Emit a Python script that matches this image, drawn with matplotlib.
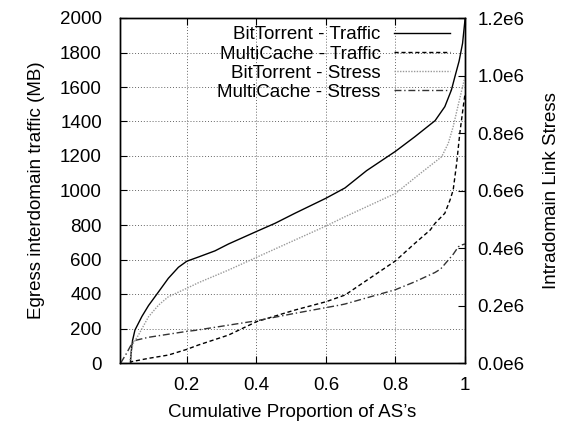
import matplotlib
matplotlib.use("Agg")
import matplotlib.pyplot as plt
from matplotlib.ticker import FuncFormatter

plt.rcParams['font.family'] = ['Liberation Sans', 'DejaVu Sans']

# ---- data ----
bt_traffic_x = [0.038, 0.040, 0.044, 0.051, 0.071, 0.090, 0.119, 0.147, 0.176, 0.200, 0.233,
                0.281, 0.320, 0.401, 0.454, 0.511, 0.600, 0.655, 0.717, 0.800, 0.856, 0.914,
                0.942, 0.961, 0.971, 0.983, 0.993, 1.000]
bt_traffic_y = [0, 60, 130, 191, 270, 333, 413, 491, 555, 590, 614,
                650, 690, 763, 810, 868, 955, 1015, 1115, 1227, 1312, 1405,
                1486, 1583, 1660, 1750, 1853, 1990]

mc_traffic_x = [0.035, 0.042, 0.090, 0.147, 0.200, 0.233, 0.320, 0.401, 0.511, 0.600, 0.641,
                0.655, 0.800, 0.856, 0.900, 0.914, 0.942, 0.957, 0.966, 0.976, 0.985, 0.995, 1.000]
mc_traffic_y = [0, 8, 27, 46, 79, 104, 162, 240, 307, 355, 384,
                394, 592, 694, 771, 810, 868, 945, 1003, 1157, 1331, 1486, 1560]

bt_stress_x = [0.035, 0.045, 0.061, 0.090, 0.119, 0.147, 0.200, 0.233, 0.320, 0.401, 0.511,
               0.600, 0.655, 0.800, 0.866, 0.933, 0.952, 0.966, 0.981, 1.000]
bt_stress_y = [0, 66000, 97200, 160800, 201600, 230400, 259800, 279000, 323400, 367800, 427800,
               476400, 508800, 589800, 654000, 717600, 764400, 822000, 900000, 996000]

mc_stress_x = [0.010, 0.025, 0.037, 0.047, 0.090, 0.200, 0.224, 0.401, 0.511, 0.600, 0.641,
               0.655, 0.800, 0.856, 0.914, 0.930, 0.952, 0.966, 0.981, 0.990, 1.000]
mc_stress_y = [0, 30000, 56400, 77400, 89400, 110000, 113400, 147000, 172800, 192600, 201600,
               205200, 255000, 282600, 315000, 327000, 358200, 378000, 404400, 410400, 414000]

labels = ["BitTorrent - Traffic", "MultiCache - Traffic",
          "BitTorrent - Stress", "MultiCache - Stress"]
x_ticks = [0.2, 0.4, 0.6, 0.8, 1.0]
x_tick_labels = ["0.2", "0.4", "0.6", "0.8", "1"]
y_ticks = list(range(0, 2001, 200))
y2_ticks = [0, 200000, 400000, 600000, 800000, 1000000, 1200000]

FS = 13.5

# ---- figure ----
fig = plt.figure(figsize=(5.79, 4.25), dpi=100)
ax = fig.add_axes([120/579, 1-363/425, 345/579, 345/425])
ax2 = ax.twinx()

l1, = ax.plot(bt_traffic_x, bt_traffic_y, color='black', lw=1.0, ls='-')
l2, = ax.plot(mc_traffic_x, mc_traffic_y, color='black', lw=1.0, ls=(0, (3, 2)))
l3, = ax2.plot(bt_stress_x, bt_stress_y, color='#999999', lw=1.0, ls=(0, (1, 1)))
l4, = ax2.plot(mc_stress_x, mc_stress_y, color='#333333', lw=1.0, ls=(0, (5, 2, 1, 2)))

ax.set_xlim(0.008, 1.0)
ax.set_ylim(0, 2000)
ax2.set_ylim(0, 1.2e6)

ax.set_xticks(x_ticks)
ax.set_xticklabels(x_tick_labels)
ax.set_yticks(y_ticks)
ax2.set_yticks(y2_ticks)
ax2.yaxis.set_major_formatter(FuncFormatter(lambda v, p: f"{v/1e6:.1f}e6"))

ax.tick_params(axis='x', direction='in', top=True, length=5, labelsize=FS, pad=10, width=0.8)
ax.tick_params(axis='y', direction='in', right=False, length=5, labelsize=FS, pad=13, width=0.8)
ax2.tick_params(axis='y', direction='in', length=5, labelsize=FS, pad=9, width=0.8)

ax.grid(True, color='#666666', ls=(0, (1, 2)), lw=0.7)
ax.set_axisbelow(True)

for a in (ax, ax2):
    for s in a.spines.values():
        s.set_linewidth(1.0)

ax.set_xlabel("Cumulative Proportion of AS\u2019s", fontsize=FS, labelpad=7)
ax.set_ylabel("Egress interdomain traffic (MB)", fontsize=FS, labelpad=11)
ax2.set_ylabel("Intradomain Link Stress", fontsize=FS, rotation=90, labelpad=13)

leg = ax2.legend([l1, l2, l3, l4], labels, loc='upper right', frameon=False,
                 markerfirst=False, fontsize=FS, handlelength=3.0, handletextpad=0.7,
                 labelspacing=0.11, borderaxespad=0.0, borderpad=0.4,
                 bbox_to_anchor=(0.978, 0.998))
for t in leg.get_texts():
    t.set_ha('right')

fig.savefig("out.png", dpi=100)
